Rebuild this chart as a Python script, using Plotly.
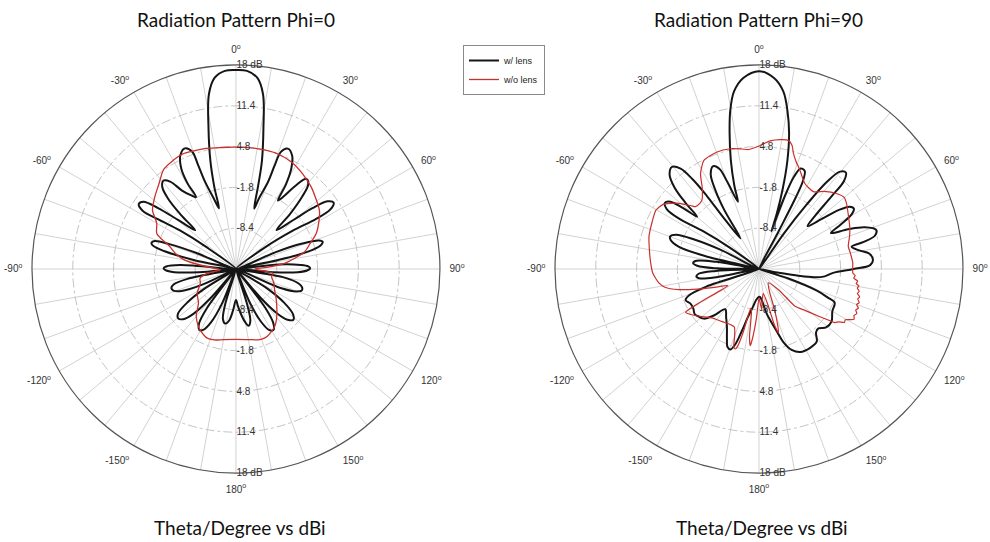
import plotly.graph_objects as go

# ---------------- data (theta in degrees, r in dB) ----------------
# Phi = 0, with lens (black)
p0_lens_theta = [-180, -176, -172.5, -169, -165.5, -163, -161,
                 -158, -155, -152, -149, -146, -143.5, -141,
                 -139, -136.5, -133.5, -130.5, -127.5, -124.5, -122, -120,
                 -115, -112, -109, -106.5, -104, -101.5, -99,
                 -95, -93, -91, -89.5, -88, -86, -84,
                 -78, -76, -74.2, -72.7, -71, -69.5, -68, -65,
                 -53.5, -55.5, -57.5, -58, -56.3, -54, -52, -49.7, -46.4,
                 -45.5, -44, -42, -39.5, -37, -34.5, -31.5, -29.1,
                 -29.5, -28.5, -26, -23, -20.5, -20, -19.5, -17.5, -15.6,
                 -14.8, -13.3, -11, -8.8, -6.4, -3.2, 0, 3.2, 6.4, 8.8, 11, 13.5, 15, 16.8,
                 18, 20.2, 20.5, 21, 23.3, 26.3, 28.8, 30.5, 31.5,
                 33.5, 35.5, 38, 40.5, 42.5, 44.5, 46.2,
                 49.5, 51.5, 53.5, 55.8, 57.8, 58, 56, 53.5, 60,
                 67, 69, 71, 72.6, 74.5, 76.5, 78, 81,
                 84, 86.5, 88, 89.5, 91, 93, 95, 97,
                 100, 103, 105.5, 108, 110.5, 113, 116,
                 122, 125, 128.5, 131.5, 134.5, 137, 139.5, 141,
                 143, 145.5, 148.5, 151.5, 154.5, 157.5, 160,
                 162.5, 164.5, 167.5, 170.5, 174, 177, 180]
p0_lens_r = [-10.0, -8.3, -6.6, -6.0, -6.6, -9.0, -15.0,
             -9.0, -5.5, -3.9, -3.5, -4.3, -7.0, -15.0,
             -9.0, -5.0, -3.2, -2.7, -3.2, -5.5, -9.0, -15.0,
             -9.0, -5.5, -4.3, -4.1, -4.6, -7.0, -15.0,
             -9.0, -5.0, -3.6, -3.3, -3.7, -6.0, -15.0,
             -8.0, -3.0, -1.0, -0.7, -1.1, -3.5, -8.0, -15.0,
             -9.0, -4.0, 0.0, 2.8, 3.9, 3.5, 1.0, -2.8, -5.9,
             -2.5, 0.8, 2.8, 3.5, 2.7, 0.4, -1.0, -1.7,
             1.0, 3.6, 5.5, 6.2, 5.3, 2.8, 0.0, -3.0, -4.8,
             -1.3, 3.0, 8.3, 13.6, 16.1, 17.1, 17.2, 17.1, 16.1, 13.6, 8.3, 3.0, -1.3, -4.8,
             -3.0, 0.0, 2.8, 5.3, 6.2, 5.5, 3.6, 1.0, -2.0,
             -0.8, 1.5, 3.5, 3.0, 0.8, -2.5, -5.9,
             -2.8, 0.8, 3.4, 4.1, 3.0, 0.3, -4.0, -9.0, -15.0,
             -8.0, -3.5, -0.8, -0.3, -0.8, -3.0, -8.0, -15.0,
             -8.0, -4.5, -3.3, -3.0, -3.4, -5.0, -9.0, -15.0,
             -7.0, -4.6, -3.9, -3.8, -4.6, -7.0, -15.0,
             -9.0, -5.5, -3.2, -2.6, -3.3, -5.0, -9.0, -15.0,
             -7.0, -4.3, -3.4, -3.8, -5.5, -9.0, -15.0,
             -9.0, -6.3, -5.6, -6.4, -7.8, -9.0, -10.0]

# Phi = 0, without lens (red)
p0_nolens_theta = [-180, -170, -163, -157, -151, -146.8, -140, -132.3, -122, -111.7, -104.5,
                   -98, -93.6, -88, -85.5, -80, -76, -71, -66, -60, -54.9, -48.8, -42, -36,
                   -30, -25, -20, -14, -7, 0, 7, 14, 20, 27.4, 35, 42.6, 48, 54.9, 60, 66.1,
                   71, 75.9, 80, 83.4, 87, 90, 93, 96.6, 102.2, 110, 118.3, 127.3, 134, 141.4,
                   146, 150.3, 155, 158.7, 162.6, 170, 180]
p0_nolens_r = [-3.6, -3.4, -3.0, -2.9, -3.4, -3.9, -5.0, -6.8, -7.6, -8.8, -9.0,
               -10.5, -12.4, -11.8, -10.3, -6.5, -5.0, -3.6, -1.0, -0.2, 1.5, 2.5, 3.6, 4.9,
               5.3, 5.5, 5.3, 5.1, 4.8, 4.7, 4.75, 4.8, 4.8, 4.5, 3.8, 3.0, 2.3, 1.5, 0.5, -0.8,
               -2.3, -3.55, -5.5, -7.1, -10.0, -12.0, -11.0, -9.0, -9.1, -8.5, -7.9, -6.8, -5.8, -4.5,
               -3.8, -3.4, -3.0, -2.9, -3.0, -3.4, -3.6]

# Phi = 90, with lens (black)
p90_lens_theta = [-180, -175, -171, -167, -164.5, -162.5, -160.5, -158, -155.5, -151, -146, -140,
                  -136, -132, -128.5, -125, -121, -117, -113, -110.5, -108.5, -106,
                  -101, -99, -96.8, -94.5, -92.5, -90.5,
                  -89, -87, -84.8, -82.5, -80.5, -78.5,
                  -76.5, -74.5, -72, -69.8, -67.5, -65.5, -63.5, -61,
                  -54, -56, -57.8, -57, -55, -52.8, -51.3, -49.8,
                  -48, -46, -43.5, -40.5, -38, -36.5, -35.5, -34.6, -31.2,
                  -30.5, -29, -27, -24, -21.5, -20, -17.4,
                  -16.5, -14.5, -12.2, -10.3, -8.0, -4.7, 0, 4.5, 7.8, 10.2, 12.5, 14.7, 16.5, 17.8, 18.3,
                  19, 19.8, 20.8, 22.5, 25, 26.5, 27.2, 27.5, 30,
                  35, 36.5, 38, 39.8, 42, 44, 45, 46.5, 48.5,
                  51.5, 53.5, 55.5, 57.5, 59.5, 61.5, 63.5,
                  66, 68.5, 71.6, 74, 75.5, 76.5,
                  79.5, 82, 85.4, 88, 90, 93, 96.4, 98.5, 101, 104,
                  108, 110.5, 112.5, 114, 120, 126, 131, 135, 138, 141.5, 147, 153.5, 158, 161.5,
                  164, 167, 170.5, 174.5, 178, 180]
p90_lens_r = [-10.5, -10.0, -8.8, -7.0, -4.5, -2.2, -1.2, -1.4, -2.5, -4.3, -5.5, -6.5,
              -4.6, -3.0, -2.6, -2.3, -2.6, -2.6, -2.1, -3.0, -6.0, -15.0,
              -8.0, -5.3, -4.8, -5.2, -8.0, -15.0,
              -8.0, -5.0, -4.3, -4.8, -8.0, -15.0,
              -6.0, -1.5, 0.0, 0.3, -0.5, -3.5, -8.0, -15.0,
              -9.0, -4.0, 0.2, 2.8, 3.6, 3.0, 0.8, -1.9,
              1.0, 4.0, 6.0, 6.7, 5.6, 3.0, -0.5, -5.0, -9.2,
              -4.0, -0.5, 2.2, 3.2, 2.4, 0.0, -3.6,
              -1.0, 3.2, 7.5, 11.0, 14.0, 16.0, 17.0, 16.0, 14.0, 11.0, 7.5, 3.1, -1.5, -5.5, -8.6,
              -5.0, -1.5, 1.0, 2.6, 2.5, 1.0, -2.0, -8.2, -15.0,
              -8.0, -2.0, 3.0, 5.5, 6.0, 4.8, 1.5, -2.5, -4.5,
              -2.0, 1.0, 2.8, 3.2, 2.4, 0.0, -2.0,
              0.8, 3.4, 5.0, 4.5, 2.5, 0.4,
              1.5, 3.0, 3.5, 3.0, 0.3, -3.0, -4.3, -6.0, -12.0, -15.0,
              -10.0, -5.0, -3.0, -1.6, -1.3, -0.5, -0.6, -1.4, -1.2, 0.0, 0.2, 0.0, -0.9, -2.5,
              -4.5, -6.2, -7.8, -9.8, -10.5, -10.5]

# Phi = 90, without lens (red)
p90_nolens_theta = [-180, -177, -174.5, -173.5, -172, -170, -168, -166, -164.5, -163.5, -162, -160,
                    -157, -152.7, -145, -136, -131, -126, -122, -120.5, -119.5, -118, -113, -108,
                    -104.4, -101, -97.9, -92.2, -86.8, -80, -73.6, -66, -60.3, -56, -51.2, -47,
                    -45.5, -42, -39.5, -35, -31.5, -26.9, -20, -13.4, -8, -5, 0, 5, 9.3, 12.9,
                    15, 16.6, 19, 22.5, 28.2, 35.1, 40, 45.7, 49.9, 53.1, 58, 65, 70, 75.8, 80,
                    86, 92.4, 94, 95.5, 97, 98.5, 99.6, 101, 102.5, 104, 105.5, 106.9, 108.6, 110,
                    111.5, 113, 114.5, 116, 117.8, 119, 120.5, 122, 123.5, 125.3, 126.5, 128.5,
                    132, 135.9, 136.7, 146, 155, 159, 161.5, 163, 164.5, 166, 170, 174, 176, 178, 180]
p90_nolens_r = [-10.3, -7.0, -3.5, -2.5, -4.0, -8.0, -8.5, -4.5, -2.0, -1.5, -1.8, -3.5,
                -4.8, -4.9, -4.6, -4.0, -3.2, -2.2, -1.4, -1.2, -4.0, -9.3, -7.5, -4.5,
                -1.6, 0.5, 1.35, 2.2, 2.55, 3.0, 3.55, 3.9, 4.2, 3.7, 2.0, 0.0,
                -0.6, -0.7, -0.5, 1.0, 3.1, 4.7, 5.1, 5.0, 4.6, 4.4, 4.9, 5.8, 6.2, 6.35,
                5.7, 4.5, 3.4, 2.3, 0.7, 0.3, 1.4, 2.5, 3.0, 2.7, 2.0, 1.2, 0.6, -0.1, 0.0,
                0.2, 0.2, 0.6, 0.4, 1.1, 0.9, 1.4, 1.2, 1.6, 1.4, 1.9, 1.7, 2.1, 1.8,
                2.3, 2.0, 2.4, 2.1, 2.4, 1.9, 1.2, 1.3, 0.5, 0.0, -1.2, -2.8,
                -5.0, -6.6, -10.4, -12.3, -11.0, -8.0, -5.5, -4.2, -5.5, -9.0, -11.0, -10.0, -8.4, -9.5, -10.3]

# axis ticks
r_range = [-15, 18]
r_tickvals = [-8.4, -1.8, 4.8, 11.4, 18]
r_ticktext = ["-8.4", "-1.8", "4.8", "11.4", "18 dB"]
ang_tickvals = [0, 10, 20, 30, 40, 50, 60, 70, 80, 90, 100, 110, 120, 130, 140, 150, 160, 170,
                180, 190, 200, 210, 220, 230, 240, 250, 260, 270, 280, 290, 300, 310, 320, 330, 340, 350]
ang_ticktext = ["0<sup>o</sup>", "", "", "30<sup>o</sup>", "", "", "60<sup>o</sup>", "", "",
                "90<sup>o</sup>", "", "", "120<sup>o</sup>", "", "", "150<sup>o</sup>", "", "",
                "180<sup>o</sup>", "", "", "-150<sup>o</sup>", "", "", "-120<sup>o</sup>", "", "",
                "-90<sup>o</sup>", "", "", "-60<sup>o</sup>", "", "", "-30<sup>o</sup>", "", ""]

titles = ["Radiation Pattern Phi=0", "Radiation Pattern Phi=90"]
subtitles = ["Theta/Degree vs dBi", "Theta/Degree vs dBi"]

BLACK = "#151515"
RED = "#c9302c"
TICKFONT = dict(family="Liberation Sans", size=10, color="#333333")

fig = go.Figure()
fig.add_trace(go.Scatterpolar(theta=p0_lens_theta, r=p0_lens_r, mode="lines", name="w/ lens",
                              line=dict(color=BLACK, width=2, shape="spline", smoothing=1.0),
                              subplot="polar", legendrank=1))
fig.add_trace(go.Scatterpolar(theta=p0_nolens_theta, r=p0_nolens_r, mode="lines", name="w/o lens",
                              line=dict(color=RED, width=1.3, shape="spline", smoothing=0.8),
                              subplot="polar", legendrank=2))
fig.add_trace(go.Scatterpolar(theta=p90_lens_theta, r=p90_lens_r, mode="lines", name="w/ lens",
                              line=dict(color=BLACK, width=2, shape="spline", smoothing=1.0),
                              subplot="polar3", showlegend=False))
fig.add_trace(go.Scatterpolar(theta=p90_nolens_theta, r=p90_nolens_r, mode="lines", name="w/o lens",
                              line=dict(color=RED, width=1.2, shape="spline", smoothing=0.6),
                              subplot="polar3", showlegend=False))
# invisible anchors for label-only overlay subplots
for sp in ["polar2", "polar4"]:
    fig.add_trace(go.Scatterpolar(theta=[0], r=[r_range[0]], mode="markers", marker=dict(opacity=0),
                                  subplot=sp, showlegend=False, hoverinfo="skip"))

Y_DOM = [0.1273, 0.8801]

def main_polar(xdom):
    return dict(
        domain=dict(x=xdom, y=Y_DOM),
        bgcolor="white",
        angularaxis=dict(rotation=90, direction="clockwise", tickmode="array",
                         tickvals=ang_tickvals, ticktext=ang_ticktext,
                         showline=True, linecolor="#555555", linewidth=1.2,
                         showgrid=True, gridcolor="#d2d2d2", gridwidth=1,
                         ticks="outside", ticklen=7, tickcolor="rgba(0,0,0,0)",
                         tickfont=TICKFONT),
        radialaxis=dict(range=r_range, tickmode="array", tickvals=r_tickvals, ticktext=r_ticktext,
                        angle=90, tickangle=90, side="clockwise", showline=False,
                        showgrid=True, gridcolor="#c4c4c4", griddash="dashdot", gridwidth=1,
                        ticks="", tickfont=TICKFONT),
    )

def label_polar(xdom):
    return dict(
        domain=dict(x=xdom, y=Y_DOM),
        bgcolor="rgba(0,0,0,0)",
        angularaxis=dict(visible=False),
        radialaxis=dict(range=r_range, tickmode="array", tickvals=r_tickvals, ticktext=r_ticktext,
                        angle=270, tickangle=-90, side="counterclockwise", showline=False,
                        showgrid=False, ticks="", tickfont=TICKFONT),
    )

left_dom = [0.0323, 0.4444]
right_dom = [0.5606, 0.9727]

annotations = []
for cx, t, s in [(236 / 990, titles[0], subtitles[0]), (758 / 990, titles[1], subtitles[1])]:
    annotations.append(dict(x=cx, y=1 - 20 / 542, xref="paper", yref="paper", text=t, showarrow=False,
                            font=dict(family="Lato", size=19, color="#111111"), xanchor="center", yanchor="middle"))
    annotations.append(dict(x=cx + 4 / 990, y=1 - 527 / 542, xref="paper", yref="paper", text=s, showarrow=False,
                            font=dict(family="Lato", size=19, color="#111111"), xanchor="center", yanchor="middle"))

fig.update_layout(
    width=990, height=542, template="none",
    margin=dict(l=0, r=0, t=0, b=0),
    paper_bgcolor="white",
    polar=main_polar(left_dom), polar2=label_polar(left_dom),
    polar3=main_polar(right_dom), polar4=label_polar(right_dom),
    showlegend=True,
    legend=dict(x=463 / 990, y=1 - 45 / 542, xanchor="left", yanchor="top",
                bgcolor="white", bordercolor="#8a8a8a", borderwidth=1,
                font=dict(family="Liberation Sans", size=9, color="#222222"),
                itemwidth=30, tracegroupgap=0),
    annotations=annotations,
)

fig.write_html("out.html")
